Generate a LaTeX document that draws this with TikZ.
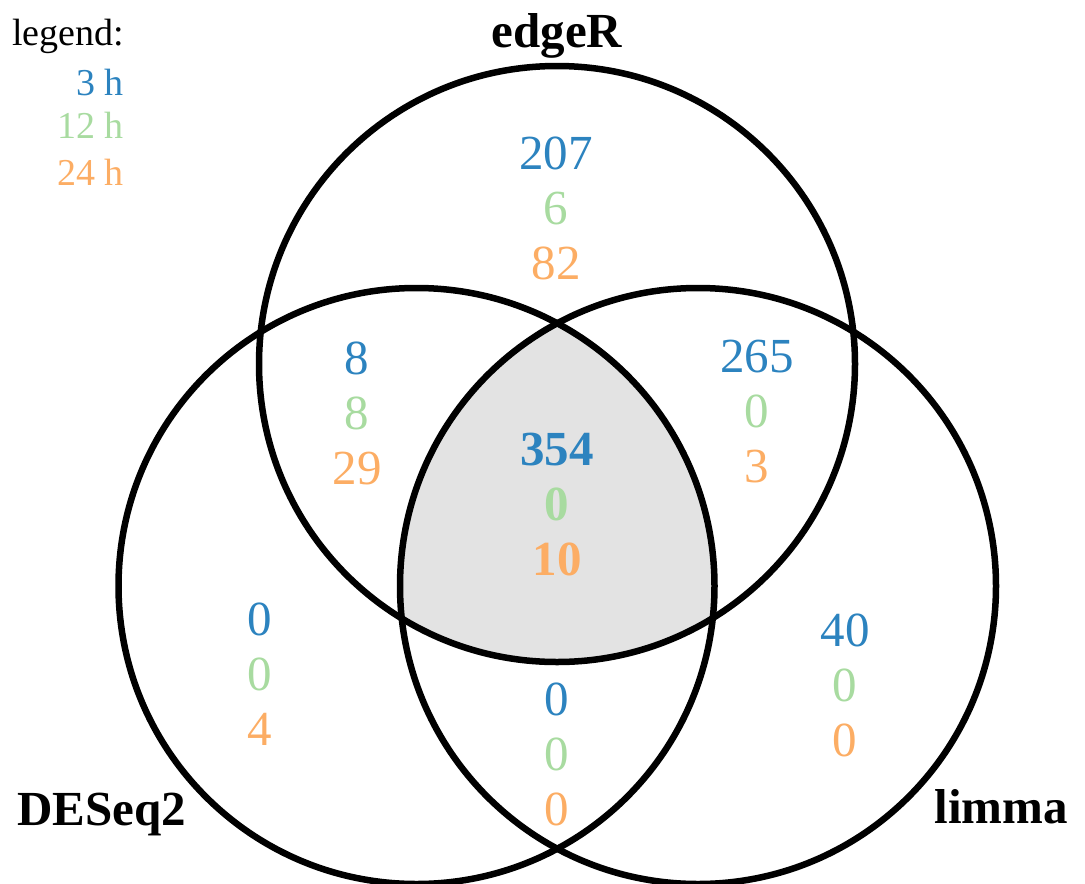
\documentclass[tikz,border=0pt]{standalone}
\usepackage{fontspec}
\setmainfont{Liberation Serif}
\definecolor{hthree}{HTML}{2C83BF}
\definecolor{htwelve}{HTML}{A8DBA0}
\definecolor{htwentyfour}{HTML}{FCAD64}
\definecolor{coreshade}{HTML}{E3E3E3}
\tikzset{
  setcircle/.style={line width=6.5pt, draw=black},
  num/.style={anchor=base, inner sep=0pt, font=\fontsize{49}{55}\selectfont},
  setlabel/.style={inner sep=0pt, font=\fontsize{49}{55}\selectfont\bfseries},
  legtext/.style={inner sep=0pt, font=\fontsize{38}{44}\selectfont},
}
% three counts (3 h, 12 h, 24 h) stacked under a given first baseline
\newcommand{\triplecounts}[6]{%
  \node[num, text=hthree] (#1a) at (#2,#3) {#4};
  \node[num, text=htwelve] (#1b) at (#2,#3+55) {#5};
  \node[num, text=htwentyfour] (#1c) at (#2,#3+110) {#6};
}
\begin{document}
\begin{tikzpicture}[x=1pt, y=-1pt]
  \useasboundingbox (0,0) rectangle (1085,884);
  \coordinate (edgeR) at (557,364);
  \coordinate (DESeq) at (416.5,586);
  \coordinate (limma) at (698,586);
  \def\rad{298}

  % region shared by all three methods
  \begin{scope}
    \clip (edgeR) circle (\rad);
    \clip (DESeq) circle (\rad);
    \fill[coreshade] (limma) circle (\rad);
  \end{scope}

  \draw[setcircle] (edgeR) circle (\rad);
  \draw[setcircle] (DESeq) circle (\rad);
  \draw[setcircle] (limma) circle (\rad);

  % set names
  \node[setlabel, anchor=base] (lbledgeR) at (557,47) {edgeR};
  \node[setlabel, anchor=base west] (lblDESeq) at (17,825) {DESeq2};
  \node[setlabel, anchor=base east] (lbllimma) at (1068,823) {limma};

  % legend
  \node[legtext, anchor=base west] (legtitle) at (12,45) {legend:};
  \node[legtext, anchor=base east, text=hthree] (legthree) at (124,95) {3 h};
  \node[legtext, anchor=base east, text=htwelve] (legtwelve) at (124,138) {12 h};
  \node[legtext, anchor=base east, text=htwentyfour] (legtwentyfour) at (124,185) {24 h};

  % counts per region
  \triplecounts{eonly}{556}{169}{207}{6}{82}
  \triplecounts{ed}{357}{374}{8}{8}{29}
  \triplecounts{el}{757}{372}{265}{0}{3}
  \triplecounts{donly}{260}{635}{0}{0}{4}
  \triplecounts{lonly}{845}{646}{40}{0}{0}
  \triplecounts{dl}{557}{715}{0}{0}{0}
  \begin{scope}[num/.append style={font=\fontsize{49}{55}\selectfont\bfseries}]
    \triplecounts{all}{557}{465}{354}{0}{10}
  \end{scope}
\end{tikzpicture}
\end{document}
